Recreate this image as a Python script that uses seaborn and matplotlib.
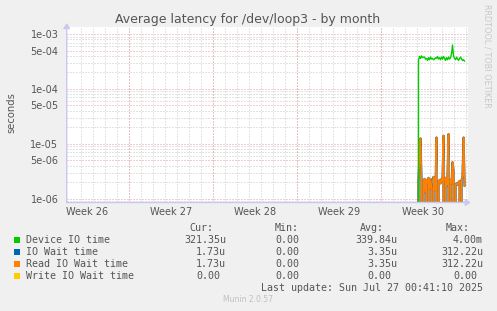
import numpy as np
import pandas as pd
import matplotlib
matplotlib.use("Agg")
import matplotlib.pyplot as plt
import seaborn as sns

# ---------------- data ----------------
week_labels = ["Week 26", "Week 27", "Week 28", "Week 29", "Week 30"]
week_starts = [5.17, 12.17, 19.17, 26.17, 33.17]   # days from left edge (week boundaries)
x_range = [0.0, 33.33]                               # days shown
data_start = 29.17                                   # day of first sample
step = 1.0 / 12.0                                    # 2-hour samples

device_io = [0, 3.3e-4, 3.9e-4, 3.6e-4, 4.0e-4, 3.7e-4, 3.8e-4, 3.8e-4, 3.5e-4, 3.6e-4,
             3.3e-4, 3.7e-4, 3.4e-4, 3.8e-4, 3.5e-4, 3.6e-4, 3.4e-4, 3.5e-4, 3.7e-4, 3.6e-4,
             3.9e-4, 3.5e-4, 3.7e-4, 3.4e-4, 3.8e-4, 3.5e-4, 3.9e-4, 3.6e-4, 3.3e-4, 3.7e-4,
             3.4e-4, 3.8e-4, 3.5e-4, 3.7e-4, 4.4e-4, 6.3e-4, 3.9e-4, 3.6e-4, 3.4e-4, 3.8e-4,
             3.5e-4, 3.3e-4, 3.6e-4, 3.8e-4, 3.5e-4, 3.3e-4, 3.4e-4, 3.2e-4]
read_wait = [0, 2.0e-6, 6.0e-6, 1.25e-5, 2.2e-6, 0, 2.1e-6, 2.3e-6, 1.3e-6, 2.2e-6,
             0, 2.4e-6, 1.5e-6, 2.3e-6, 1.6e-6, 0, 2.5e-6, 2.0e-6, 1.4e-6, 1.3e-5,
             0, 2.0e-6, 2.2e-6, 1.9e-6, 2.3e-6, 2.1e-6, 1.4e-5, 0, 2.4e-6, 1.7e-6,
             2.6e-6, 1.5e-5, 0, 2.2e-6, 1.9e-6, 4.6e-6, 3.2e-6, 0, 1.8e-6, 1.9e-6,
             1.8e-6, 2.0e-6, 2.1e-6, 0, 2.2e-6, 2.6e-6, 1.3e-5, 1.7e-6]
io_wait = list(read_wait)
write_wait = [0.0] * len(read_wait)

legend_names = ["Device IO time", "IO Wait time", "Read IO Wait time", "Write IO Wait time"]
legend_colors = ["#00CC00", "#0066B3", "#FF8000", "#FFCC00"]
cur_vals = ["321.35u", "1.73u", "1.73u", "0.00 "]
min_vals = ["0.00 ", "0.00 ", "0.00 ", "0.00 "]
avg_vals = ["339.84u", "3.35u", "3.35u", "0.00 "]
max_vals = ["4.00m", "312.22u", "312.22u", "0.00 "]

y_ticks = [1e-6, 5e-6, 1e-5, 5e-5, 1e-4, 5e-4, 1e-3]
y_labels = ["1e-06", "5e-06", "1e-05", "5e-05", "1e-04", "5e-04", "1e-03"]

# ---------------- figure ----------------
sns.set_style("white")
plt.rcParams["font.family"] = ["DejaVu Sans"]
W, H = 497, 311
fig = plt.figure(figsize=(W / 100, H / 100), dpi=100, facecolor="#F0F0F0")
L, R, T, B = 66.7, 467.5, 27.3, 202.5
ax = fig.add_axes([L / W, 1 - B / H, (R - L) / W, (B - T) / H])
ax.set_facecolor("white")

t = data_start + step * np.arange(len(device_io))
df = pd.DataFrame({"t": t, "device": device_io, "io": io_wait,
                   "read": read_wait, "write": write_wait})

ax.set_yscale("log", nonpositive="clip")
ax.set_xlim(*x_range)
ax.set_ylim(8.53e-7, 1.325e-3)

# grid
grid_gray = "#C8C8C8"
grid_red = "#E6A0A0"
dot = (0, (1, 2))
for d in range(1, 34):
    ax.axvline(d + 0.17, color=grid_gray, lw=0.72, ls=dot, zorder=0)
for ws in week_starts[:-1]:
    ax.axvline(ws, color=grid_red, lw=0.72, ls=dot, zorder=0.5)
for e in range(-7, -2):
    for m in range(1, 10):
        v = m * 10.0 ** e
        if 8.53e-7 < v < 1.325e-3:
            if m in (1, 5):
                ax.axhline(v, color=grid_red, lw=0.72, ls=dot, zorder=0.5)
            else:
                ax.axhline(v, color=grid_gray, lw=0.72, ls=dot, zorder=0)

sns.lineplot(data=df, x="t", y="write", ax=ax, color=legend_colors[3], lw=1.2, zorder=3)
sns.lineplot(data=df, x="t", y="io", ax=ax, color=legend_colors[1], lw=1.6, zorder=3)
sns.lineplot(data=df, x="t", y="read", ax=ax, color=legend_colors[2], lw=1.3, zorder=4)
sns.lineplot(data=df, x="t", y="device", ax=ax, color=legend_colors[0], lw=1.0, zorder=5)

for s in ax.spines.values():
    s.set_visible(False)
ax.set_xlabel("")
ax.set_ylabel("")

text_col = "#555555"
ax.set_yticks(y_ticks)
ax.set_yticklabels(y_labels)
ax.yaxis.set_minor_locator(matplotlib.ticker.NullLocator())
mids = [ws - 3.5 for ws in week_starts]
ax.set_xticks(mids)
ax.set_xticklabels(week_labels)
ax.tick_params(axis="y", length=0, labelsize=7, colors=text_col, pad=6)
ax.tick_params(axis="x", length=0, labelsize=7, colors=text_col, pad=3)

# axis lines with arrows
axis_col = "#C8C8F0"
fig.add_artist(matplotlib.patches.FancyArrowPatch(
    (L / W, 1 - (B + 3) / H), (L / W, 1 - (T - 7) / H), transform=fig.transFigure,
    arrowstyle="-|>,head_length=3,head_width=2", color=axis_col, lw=1))
fig.add_artist(matplotlib.patches.FancyArrowPatch(
    ((L - 3) / W, 1 - B / H), ((R + 6) / W, 1 - B / H), transform=fig.transFigure,
    arrowstyle="-|>,head_length=3,head_width=2", color=axis_col, lw=1))

# title & labels
fig.text(248 / W, 1 - 19 / H, "Average latency for /dev/loop3 - by month",
         ha="center", va="center", fontsize=9, color=text_col)
fig.text(11 / W, 1 - 113 / H, "seconds", rotation=90, ha="center", va="center",
         fontsize=7.2, color=text_col)
fig.text(487 / W, 1 - 56 / H, "RRDTOOL / TOBI OETIKER", rotation=270, ha="center",
         va="center", fontsize=5.9, color="#C8C8C8")

# legend block
mono = "DejaVu Sans Mono"
fs = 7.2
hy = 228
for txt, xr in [("Cur:", 213), ("Min:", 299), ("Avg:", 384), ("Max:", 470)]:
    fig.text(xr / W, 1 - hy / H, txt, ha="right", va="center", family=mono,
             fontsize=fs, color=text_col)
col_right = [226, 305, 397, 483]
for i, name in enumerate(legend_names):
    y = 240 + 12 * i
    fig.add_artist(matplotlib.patches.Rectangle(
        (14 / W, 1 - (y + 3) / H), 6 / W, 6 / H, transform=fig.transFigure,
        facecolor=legend_colors[i], edgecolor="none"))
    fig.text(26 / W, 1 - y / H, name, ha="left", va="center", family=mono,
             fontsize=fs, color=text_col)
    for vals, xr in zip([cur_vals, min_vals, avg_vals, max_vals], col_right):
        v = vals[i]
        shift = 6 if v.endswith(" ") else 0
        fig.text((xr - shift) / W, 1 - y / H, v.strip(), ha="right", va="center",
                 family=mono, fontsize=fs, color=text_col)
fig.text(483 / W, 1 - 288 / H, "Last update: Sun Jul 27 00:41:10 2025", ha="right",
         va="center", family=mono, fontsize=fs, color=text_col)
fig.text(248 / W, 1 - 300 / H, "Munin 2.0.57", ha="center", va="center",
         fontsize=5.5, color="#C0C0C0")

fig.savefig("out.png", dpi=100, facecolor=fig.get_facecolor())
